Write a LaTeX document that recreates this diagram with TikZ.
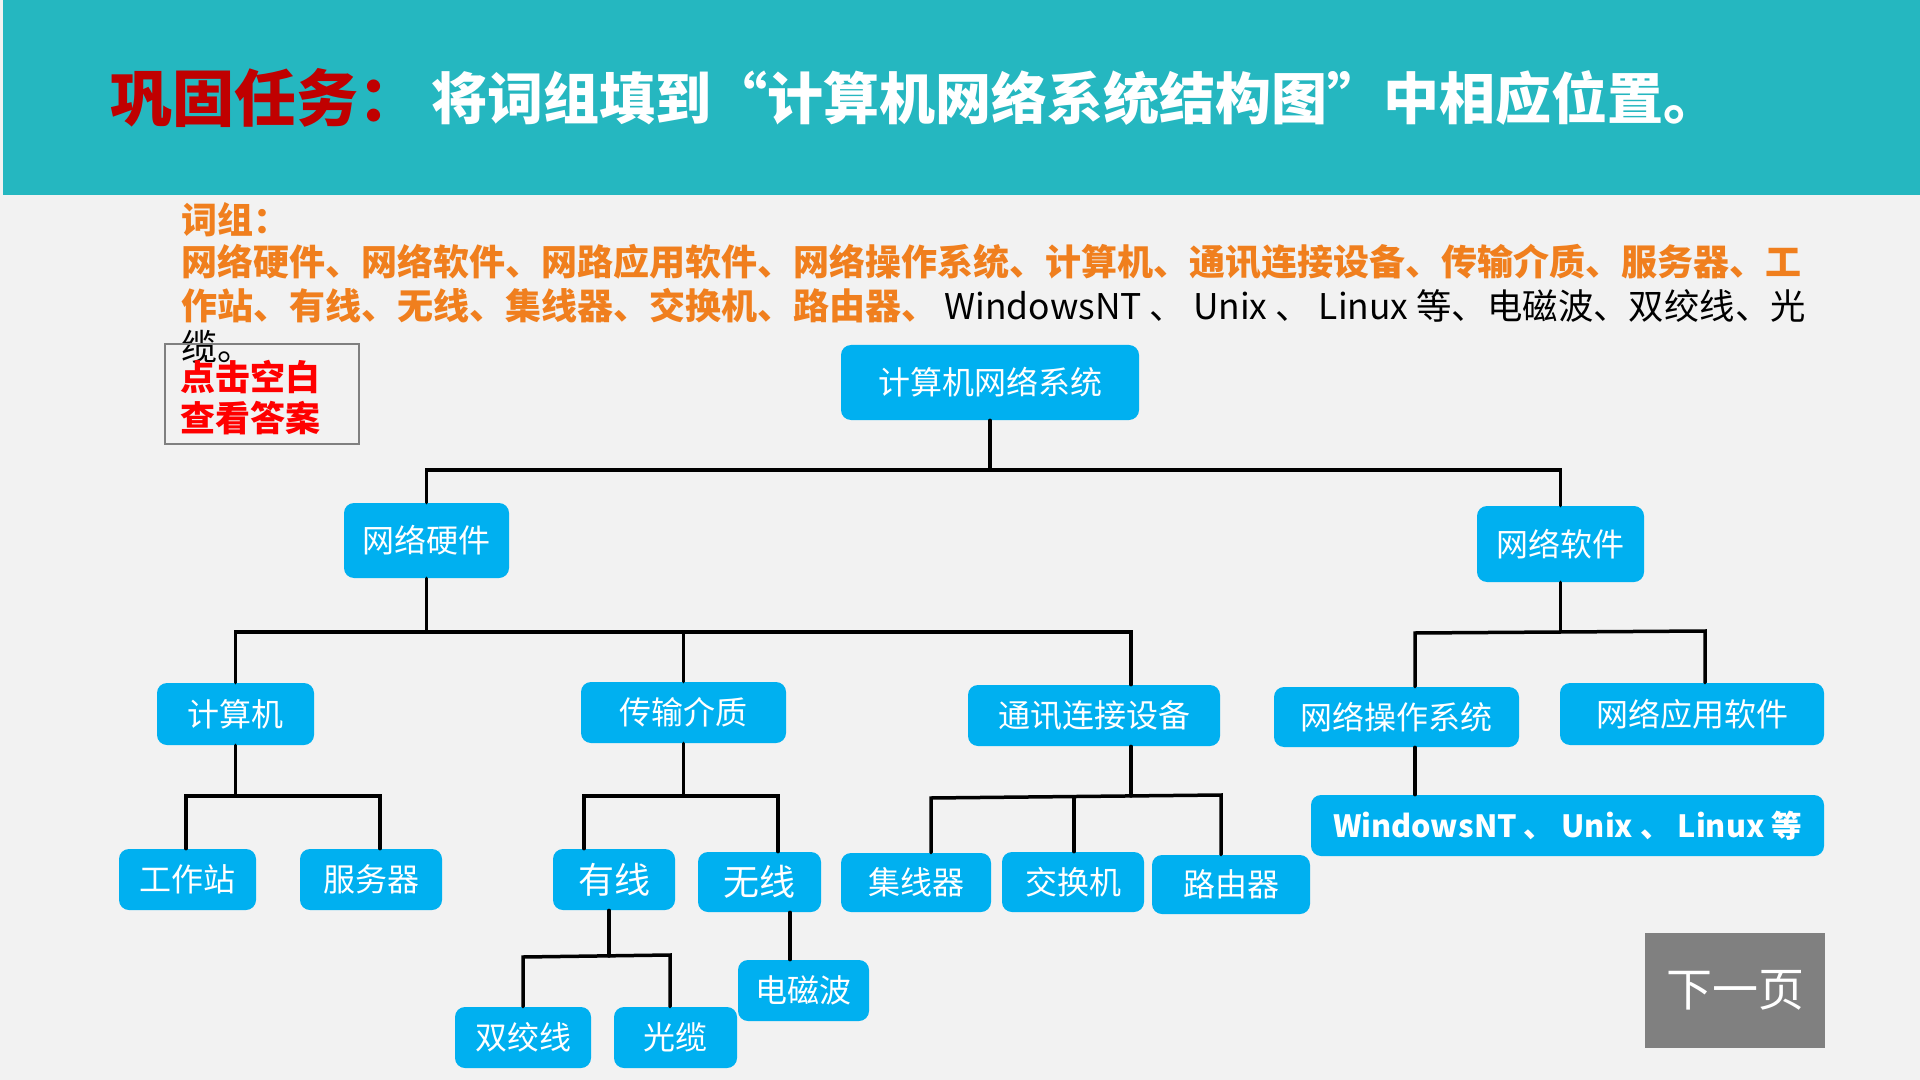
\documentclass[tikz,border=0pt]{standalone}
\usepackage{fontspec}
\setmainfont{Noto Sans CJK SC}
\definecolor{bgc}{HTML}{F2F2F2}
\definecolor{headc}{HTML}{25B7C0}
\definecolor{boxc}{HTML}{00B0F0}
\definecolor{orangec}{HTML}{F07F1E}
\definecolor{titlered}{HTML}{C00000}
\definecolor{nextc}{HTML}{808080}
\begin{document}
\begin{tikzpicture}[x=0.5pt,y=-0.5pt,
  bbox/.style={draw=none,fill=boxc,rounded corners=5pt,text=white,font=\fontsize{16}{18}\selectfont,inner sep=0pt,align=center},
  conn/.style={draw=black,line width=1.75pt,line cap=round,line join=miter},
  wl/.style={anchor=west,inner sep=0pt,font=\bfseries\fontsize{18}{20}\selectfont,text=orangec}]
\useasboundingbox (0,0) rectangle (1920,1080);
\fill[bgc] (0,0) rectangle (1920,1080);
\fill[headc] (3,0) rectangle (1920,195);
% title
\node[anchor=west,inner sep=0pt,text=titlered,font=\bfseries\fontsize{31}{34}\selectfont] (t1) at (110,98) {巩固任务：};
\node[anchor=west,inner sep=0pt,text=white,font=\bfseries\fontsize{28}{30}\selectfont] (t2) at (431,98) {将词组填到“计算机网络系统结构图”中相应位置。};
% word list
\node[wl] (w0) at (181,220) {词组：};
\node[wl] (w1) at (181,262) {网络硬件、网络软件、网路应用软件、网络操作系统、计算机、通讯连接设备、传输介质、服务器、工};
\node[wl] (w2) at (181,306) {作站、有线、无线、集线器、交换机、路由器、};
\node[anchor=west,inner sep=0pt,font=\fontsize{17.7}{20}\selectfont,text=black] (w2b) at (944,306) {WindowsNT 、 Unix 、 Linux 等、电磁波、双绞线、光};
\node[anchor=west,inner sep=0pt,font=\fontsize{18}{20}\selectfont,text=black] (w3) at (181,347) {缆。};
% answer box
\draw[draw=gray,line width=0.6pt] (165,344) rectangle (359,444);
\node[anchor=west,inner sep=0pt,text=red,font=\bfseries\fontsize{17.5}{19}\selectfont] (a1) at (180,377) {点击空白};
\node[anchor=west,inner sep=0pt,text=red,font=\bfseries\fontsize{17.5}{19}\selectfont] (a2) at (180,418) {查看答案};
% nodes
\node[bbox,minimum width=149pt,minimum height=37.5pt] (root) at (990,382.5) {计算机网络系统};
\node[bbox,minimum width=82.5pt,minimum height=37.5pt] (hw) at (426.5,540.5) {网络硬件};
\node[bbox,minimum width=83.5pt,minimum height=38pt] (sw) at (1560.5,544) {网络软件};
\node[bbox,minimum width=78.5pt,minimum height=31pt] (pc) at (235.5,714) {计算机};
\node[bbox,minimum width=102.5pt,minimum height=30.5pt] (media) at (683.5,712.5) {传输介质};
\node[bbox,minimum width=126pt,minimum height=30.5pt] (comm) at (1094,715.5) {通讯连接设备};
\node[bbox,minimum width=122.5pt,minimum height=30pt] (nos) at (1396.5,717) {网络操作系统};
\node[bbox,minimum width=132pt,minimum height=31pt] (app) at (1692,714) {网络应用软件};
\node[bbox,minimum width=256.5pt,minimum height=30.5pt,font=\bfseries\fontsize{15.3}{18}\selectfont] (win) at (1567.5,825.5) {WindowsNT 、 Unix 、 Linux 等};
\node[bbox,minimum width=68.5pt,minimum height=30.5pt] (ws) at (187.5,879.5) {工作站};
\node[bbox,minimum width=71pt,minimum height=30.5pt] (srv) at (371,879.5) {服务器};
\node[bbox,minimum width=61pt,minimum height=30.5pt,font=\fontsize{18}{20}\selectfont] (wired) at (614,879.5) {有线};
\node[bbox,minimum width=61.5pt,minimum height=30pt,font=\fontsize{18}{20}\selectfont] (wless) at (759.5,882) {无线};
\node[bbox,minimum width=75pt,minimum height=29.5pt] (hub) at (916,882.5) {集线器};
\node[bbox,minimum width=71pt,minimum height=30pt] (switch) at (1073,882) {交换机};
\node[bbox,minimum width=79pt,minimum height=29.5pt] (router) at (1231,884.5) {路由器};
\node[bbox,minimum width=65.5pt,minimum height=30.5pt] (em) at (803.5,990.5) {电磁波};
\node[bbox,minimum width=68pt,minimum height=30.5pt] (tp) at (523,1037.5) {双绞线};
\node[bbox,minimum width=61.5pt,minimum height=30.5pt] (fiber) at (675.5,1037.5) {光缆};
\node[fill=nextc,text=white,inner sep=0pt,minimum width=90pt,minimum height=57.5pt,font=\fontsize{23}{25}\selectfont] (next) at (1735,990.5) {下一页};
% connectors
\coordinate (b1) at (990,470);
\draw[conn] (root.south) -- (b1);
\draw[conn] (hw.north) |- (b1) -| (sw.north);
\coordinate (b2) at (426.5,632);
\coordinate (c3) at (1131,632);
\draw[conn] (hw.south) -- (b2);
\draw[conn] (pc.north) |- (b2) -- (c3) -- (c3 |- comm.north);
\draw[conn] (media.north) -- (media.north |- b2);
\coordinate (b3) at (1560.5,632);
\coordinate (n1) at (1415,633);
\coordinate (n2) at (1705,631);
\draw[conn] (sw.south) -- (b3);
\draw[conn] (n1 |- nos.north) -- (n1) -- (n2) -- (n2 |- app.north);
\draw[conn] (n1 |- nos.south) -- (n1 |- win.north);
\coordinate (pcb) at (235.5,796);
\coordinate (pcl) at (186,796);
\coordinate (pcr) at (380,796);
\draw[conn] (pc.south) -- (pcb);
\draw[conn] (pcl |- ws.north) -- (pcl) -- (pcr) -- (pcr |- srv.north);
\coordinate (ml) at (584,796);
\coordinate (mr) at (778,796);
\draw[conn] (media.south) -- (media.south |- ml);
\draw[conn] (ml |- wired.north) -- (ml) -- (mr) -- (mr |- wless.north);
\coordinate (wb) at (609,956);
\coordinate (wla) at (523,957);
\coordinate (wra) at (670,955);
\draw[conn] (wb |- wired.south) -- (wb);
\draw[conn] (wla |- tp.north) -- (wla) -- (wra) -- (wra |- fiber.north);
\coordinate (wx) at (790,935);
\draw[conn] (wx |- wless.south) -- (wx |- em.north);
\coordinate (cb) at (1131,796);
\coordinate (cl) at (931,798);
\coordinate (cm) at (1074,797);
\coordinate (cr) at (1221,795);
\draw[conn] (cb |- comm.south) -- (cb);
\draw[conn] (cl |- hub.north) -- (cl) -- (cr) -- (cr |- router.north);
\draw[conn] (cm) -- (cm |- switch.north);
\end{tikzpicture}
\end{document}
